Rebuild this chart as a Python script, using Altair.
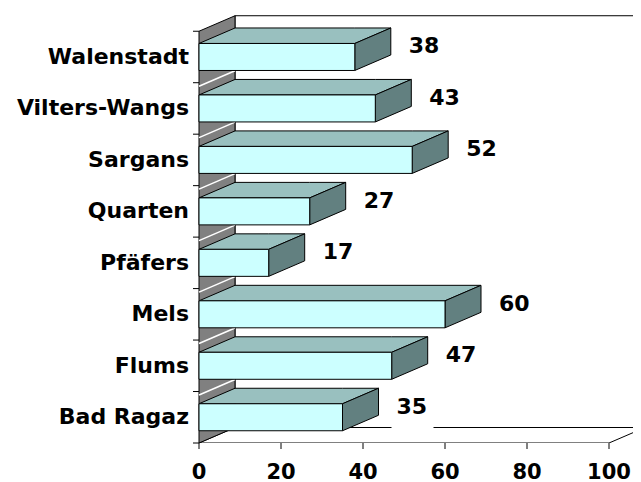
import altair as alt
import pandas as pd

# ---- data ----
categories = ["Bad Ragaz", "Flums", "Mels", "Pfäfers", "Quarten",
              "Sargans", "Vilters-Wangs", "Walenstadt"]
values = [35, 47, 60, 17, 27, 52, 43, 38]
x_ticks = [0, 20, 40, 60, 80, 100]
x_max_value = 100

# ---- layout constants (pixels) ----
PAD_LEFT = 191
PLOT_W = 434
PLOT_H = 435
PX_X = 4.1            # pixels per value unit
PX_BAND = 51.47       # pixels per category band
X_MAX = PLOT_W / PX_X
Y_MAX = PLOT_H / PX_BAND
N = len(categories)
DX = 36 / PX_X        # 3-D depth, horizontal
DY = 15.5 / PX_BAND   # 3-D depth, vertical
HALF = 13.5 / PX_BAND # half bar height
GRID_OFF = 3.5 / PX_BAND
LBL_DX = 18 / PX_X
LBL_DY = 10.5 / PX_BAND
TICK_X = 6 / PX_X
TICK_Y = 6 / PX_BAND

FONT = "DejaVu Sans"

xs = alt.Scale(domain=[0, X_MAX], nice=False, zero=False)
ys = alt.Scale(domain=[0, Y_MAX], nice=False, zero=False)
X = lambda f: alt.X(f, scale=xs, axis=None)
Y = lambda f: alt.Y(f, scale=ys, axis=None)


def slant_h(sid, x0, x1, yb):
    """horizontal parallelogram (top face / floor)"""
    pts = [(x0, yb, yb), (x0 + DX, yb, yb + DY), (x1, yb, yb + DY), (x1 + DX, yb + DY, yb + DY)]
    return [dict(id=sid, x=p[0], lo=p[1], hi=p[2]) for p in pts]


def slant_v(sid, x, y0, y1):
    """vertical parallelogram (side face / left wall)"""
    pts = [(x, y0, y1), (x + DX, y0 + DY, y1 + DY)]
    return [dict(id=sid, x=p[0], lo=p[1], hi=p[2]) for p in pts]


def area_layer(rows, fill, stroke="black", sw=1, clip=False):
    return alt.Chart(pd.DataFrame(rows)).mark_area(
        fill=fill, stroke=stroke, strokeWidth=sw, interpolate="linear",
        orient="vertical", opacity=1, fillOpacity=1, clip=clip
    ).encode(
        x=X("x:Q"),
        y=alt.Y("lo:Q", scale=ys, axis=None, stack=None),
        y2="hi:Q",
        detail="id:N",
    )


centers = [i + 0.5 for i in range(N)]

# ---- axes: ticks and labels through the shared scales ----
xt_df = pd.DataFrame(dict(v=x_ticks, lab=[str(t) for t in x_ticks]))
xt_df["y0"] = 0.0
xt_df["y1"] = -TICK_Y
xt_df["ly"] = -29.5 / PX_BAND
x_ticks_layer = alt.Chart(xt_df).mark_rule(color="black", strokeWidth=1).encode(
    x=X("v:Q"), y=Y("y0:Q"), y2="y1:Q")
x_labels_layer = alt.Chart(xt_df).mark_text(
    align="center", baseline="middle", font=FONT, fontSize=21,
    fontWeight="bold", color="black").encode(
    x=X("v:Q"), y=Y("ly:Q"), text="lab:N")

yt_df = pd.DataFrame(dict(b=list(range(N + 1))))
yt_df["x0"] = -TICK_X
yt_df["x1"] = 0.0
y_ticks_layer = alt.Chart(yt_df).mark_rule(color="black", strokeWidth=1).encode(
    x=X("x0:Q"), x2="x1:Q", y=Y("b:Q"))
yl_df = pd.DataFrame(dict(c=centers, name=categories))
yl_df["lx"] = -10 / PX_X
y_labels_layer = alt.Chart(yl_df).mark_text(
    align="right", baseline="middle", font=FONT, fontSize=22,
    fontWeight="bold", color="black").encode(
    x=X("lx:Q"), y=Y("c:Q"), text="name:N")

# back wall
back_df = pd.DataFrame([dict(x=DX, x2=x_max_value + DX, y=DY, y2=N + DY)])
back_wall = alt.Chart(back_df).mark_rect(
    fill="white", stroke="black", strokeWidth=1, clip=True
).encode(x=X("x:Q"), x2="x2:Q", y=Y("y:Q"), y2="y2:Q")

# floor
floor = area_layer(slant_h("floor", 0, x_max_value, 0), "white", clip=True)

# left side wall
left_wall = area_layer(slant_v("wall", 0, 0, N), "#808080")

# white grid lines on the side wall
wl_df = pd.DataFrame([dict(x=0, x2=DX, y=i - GRID_OFF, y2=i - GRID_OFF + DY) for i in range(1, N)])
wall_lines = alt.Chart(wl_df).mark_rule(color="white", strokeWidth=1.5).encode(
    x=X("x:Q"), x2="x2:Q", y=Y("y:Q"), y2="y2:Q")

# bars
top_rows, side_rows, front_rows = [], [], []
for c, v, name in zip(centers, values, categories):
    top_rows += slant_h("t" + name, 0, v, c + HALF)
    side_rows += slant_v("s" + name, v, c - HALF, c + HALF)
    front_rows.append(dict(x=0, x2=v, y=c - HALF, y2=c + HALF))

tops = area_layer(top_rows, "#99C0BF")
sides = area_layer(side_rows, "#628080")
fronts = alt.Chart(pd.DataFrame(front_rows)).mark_rect(
    fill="#CCFFFF", stroke="black", strokeWidth=1
).encode(x=X("x:Q"), x2="x2:Q", y=Y("y:Q"), y2="y2:Q")

# value labels
lbl_df = pd.DataFrame(dict(
    lx=[v + DX + LBL_DX for v in values],
    ly=[c + LBL_DY for c in centers],
    text=[str(v) for v in values],
))
lbl_df["bx"] = lbl_df["lx"] - 5 / PX_X
lbl_df["bx2"] = lbl_df["lx"] + 37 / PX_X
lbl_df["by"] = lbl_df["ly"] - 22 / PX_BAND
lbl_df["by2"] = lbl_df["ly"] + 22 / PX_BAND

lbl_boxes = alt.Chart(lbl_df).mark_rect(fill="white").encode(
    x=X("bx:Q"), x2="bx2:Q", y=Y("by:Q"), y2="by2:Q")
labels = alt.Chart(lbl_df).mark_text(
    align="left", baseline="middle", font=FONT, fontSize=22,
    fontWeight="bold", color="black"
).encode(x=X("lx:Q"), y=Y("ly:Q"), text="text:N")

chart = alt.layer(
    back_wall, floor, left_wall, wall_lines, tops, sides, fronts, lbl_boxes, labels,
    x_ticks_layer, x_labels_layer, y_ticks_layer, y_labels_layer
).properties(
    width=PLOT_W, height=PLOT_H,
    autosize=alt.AutoSizeParams(type="none"),
    padding={"left": PAD_LEFT, "top": 0, "right": 0, "bottom": 40},
    background="white",
).configure_view(stroke=None)

chart.save("out.html", embed_options={"renderer": "svg", "actions": False})
